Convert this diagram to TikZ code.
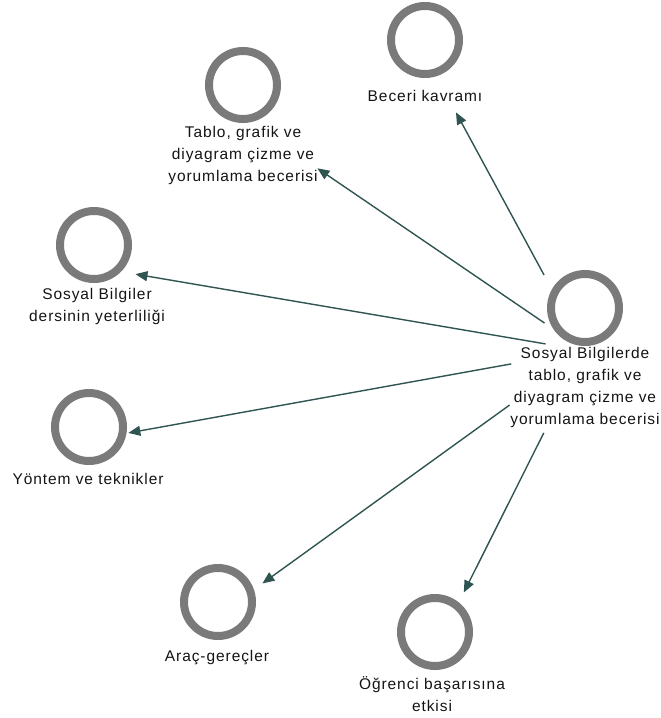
\documentclass[tikz,border=0pt]{standalone}
\usepackage{fontspec}
\newfontfamily\lblfont{Liberation Sans}[LetterSpace=6]
\usetikzlibrary{arrows.meta,fit,calc}
\definecolor{ringgray}{HTML}{7A7A7A}
\definecolor{linkteal}{HTML}{2F5552}
\definecolor{textgray}{HTML}{141414}
\begin{document}
\begin{tikzpicture}[x=1pt,y=-1pt,
  ring/.style={circle, draw=ringgray, line width=8pt, minimum size=68pt, inner sep=0pt},
  lbl/.style={anchor=north, align=center, inner sep=0pt, text=textgray,
    font=\lblfont\fontsize{15.5}{22}\selectfont, execute at begin node=\strut},
  grp/.style={inner sep=0pt, draw=none},
  arr/.style={draw=linkteal, line width=1.4pt, -{Triangle[length=12pt,width=10pt]}}]
\useasboundingbox (0,0) rectangle (661,718);

% concept rings with their captions
\node[ring] (cH) at (585,308) {};
\node[lbl] (tH) at (585,347) {Sosyal Bilgilerde\\tablo, grafik ve\\diyagram çizme ve\\yorumlama becerisi};
\node[grp, fit=(cH)(tH)] (gH) {};

\node[ring] (cB) at (425,40) {};
\node[lbl] (tB) at (425,86) {Beceri kavramı};
\node[grp, fit=(cB)(tB)] (gB) {};

\node[ring] (cT) at (243,85) {};
\node[lbl] (tT) at (243,126) {Tablo, grafik ve\\diyagram çizme ve\\yorumlama becerisi};
\node[grp, fit=(cT)(tT)] (gT) {};

\node[ring] (cS) at (94,245) {};
\node[lbl] (tS) at (97,288) {Sosyal Bilgiler\\dersinin yeterliliği};
\node[grp, fit=(cS)(tS)] (gS) {};

\node[ring] (cY) at (89,427) {};
\node[lbl] (tY) at (88,469) {Yöntem ve teknikler};
\node[grp, fit=(cY)(tY)] (gY) {};

\node[ring] (cA) at (218,602) {};
\node[lbl] (tA) at (217,646) {Araç-gereçler};
\node[grp, fit=(cA)(tA)] (gA) {};

\node[ring] (cO) at (435,632) {};
\node[lbl] (tO) at (432,676) {Öğrenci başarısına\\etkisi};
\node[grp, fit=(cO)(tO)] (gO) {};

% links from the central concept
\draw[arr] ($(gH)!86pt!(gB)$) -- ($(gB)!65pt!(gH)$);
\draw[arr] ($(gH)!49pt!(gT)$) -- ($(gT)!90pt!(gH)$);
\draw[arr] ($(gH)!40pt!(gS)$) -- ($(gS)!39pt!(gH)$);
\draw[arr] ($(gH)!75pt!(gY)$) -- ($(gY)!41pt!(gH)$);
\draw[arr] ($(gH)!93pt!(gA)$) -- ($(gA)!56pt!(gH)$);
\draw[arr] ($(gH)!92pt!(gO)$) -- ($(gO)!71pt!(gH)$);
\end{tikzpicture}
\end{document}
